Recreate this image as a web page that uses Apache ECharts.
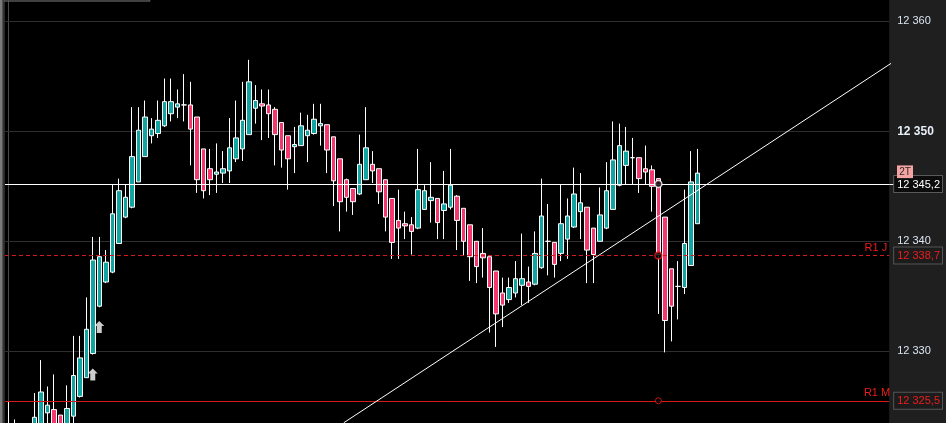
<!DOCTYPE html>
<html><head><meta charset="utf-8">
<script src="https://cdn.jsdelivr.net/npm/echarts@6/dist/echarts.min.js"></script>
<style>html,body{margin:0;padding:0;background:#1f1f1f;overflow:hidden}#c{width:946px;height:423px;}</style>
</head><body><div id="c"></div>
<script>
// ---- data ----
const opens = [
12323.0,12322.8,12322.0,12322.6,12322.5,12322.8,12324.4,12324.7,12324.2,12323.0,
12324.1,12325.9,12327.6,12329.8,12334.1,12336.3,12337.2,12339.8,12342.2,12343.1,
12345.4,12347.7,12349.6,12349.8,12350.5,12351.6,12352.2,12352.4,12352.4,12351.3,
12348.4,12346.6,12346.1,12346.2,12346.4,12347.5,12348.4,12349.7,12352.1,12352.5,
12352.4,12352.0,12350.8,12349.6,12348.6,12348.7,12349.6,12349.8,12350.5,12350.6,
12349.5,12347.5,12345.6,12344.8,12344.3,12345.6,12347.0,12346.6,12345.6,12343.9,
12341.9,12341.6,12341.5,12341.2,12342.9,12343.7,12343.9,12342.8,12343.1,12344.1,
12343.0,12341.5,12340.0,12338.9,12338.6,12337.3,12335.3,12334.7,12335.3,12336.0,
12336.3,12336.1,12337.6,12340.0,12339.9,12338.9,12340.2,12341.3,12342.7,12343.1,
12341.2,12340.0,12341.2,12342.9,12345.1,12346.9,12347.6,12347.6,12346.6,12346.5,
12345.7,12342.2,12337.5,12335.9,12335.8,12337.8,12341.6];
const closes = [
12322.4,12322.2,12322.6,12322.3,12324.0,12326.3,12325.1,12323.3,12323.0,12324.8,
12327.8,12329.4,12332.0,12338.3,12338.6,12338.1,12342.5,12344.6,12344.0,12347.7,
12350.1,12351.3,12350.2,12351.0,12352.7,12352.7,12352.5,12352.4,12350.2,12345.6,
12344.6,12345.6,12346.3,12346.6,12348.5,12349.4,12351.0,12354.5,12352.8,12352.3,
12351.6,12349.7,12348.3,12347.5,12348.8,12350.5,12350.1,12351.1,12350.7,12348.3,
12345.5,12343.6,12344.0,12343.6,12347.0,12348.5,12346.4,12344.5,12342.2,12339.9,
12341.2,12341.4,12340.9,12344.7,12344.6,12344.0,12341.7,12343.4,12345.1,12341.9,
12340.0,12338.6,12337.7,12338.5,12335.8,12333.4,12334.2,12335.8,12336.6,12336.6,
12335.9,12338.9,12342.3,12340.0,12337.9,12341.6,12342.3,12344.3,12343.5,12339.2,
12338.8,12342.4,12344.6,12347.4,12348.7,12348.2,12347.6,12345.7,12346.3,12345.0,
12338.8,12332.8,12334.1,12335.9,12339.8,12345.4,12346.2];
const lows = [
12322.0,12321.8,12321.5,12321.7,12322.0,12322.5,12323.0,12322.8,12322.5,12322.6,
12323.2,12325.8,12327.6,12329.7,12334.0,12336.2,12337.1,12339.8,12342.1,12343.0,
12345.4,12347.7,12348.9,12349.4,12350.4,12350.9,12351.2,12350.9,12346.9,12344.4,
12343.9,12344.2,12344.4,12345.3,12345.3,12347.2,12347.3,12349.7,12350.7,12349.2,
12349.4,12346.9,12346.7,12344.7,12346.2,12348.7,12347.2,12349.7,12348.7,12346.2,
12343.2,12340.9,12342.7,12342.4,12344.2,12345.6,12345.3,12343.4,12340.9,12338.4,
12338.4,12340.2,12338.8,12341.1,12342.9,12341.7,12340.2,12340.2,12342.9,12339.2,
12338.7,12336.4,12336.2,12336.7,12331.7,12330.4,12332.2,12334.4,12334.9,12334.2,
12334.4,12336.0,12337.5,12336.9,12336.7,12338.2,12338.4,12341.2,12340.2,12336.2,
12336.2,12340.0,12341.1,12342.9,12345.0,12345.2,12345.2,12344.4,12345.2,12342.7,
12333.4,12329.9,12330.9,12332.9,12335.2,12337.8,12341.6];
const highs = [
12325.4,12323.8,12323.2,12323.3,12326.2,12329.2,12326.8,12327.9,12324.2,12326.9,
12331.4,12331.4,12334.9,12340.4,12340.4,12339.2,12345.2,12345.7,12345.2,12352.2,
12352.2,12352.8,12351.2,12352.8,12354.8,12354.8,12353.8,12355.2,12354.5,12351.3,
12348.4,12348.4,12348.9,12348.2,12351.2,12352.8,12354.5,12356.5,12354.2,12353.8,
12353.8,12352.2,12350.8,12349.6,12350.4,12351.7,12351.5,12352.5,12352.5,12350.6,
12349.5,12347.5,12345.7,12344.8,12349.7,12352.2,12348.2,12346.6,12345.6,12343.9,
12344.7,12342.7,12342.2,12348.4,12345.1,12347.2,12343.9,12346.4,12348.4,12344.2,
12343.0,12341.5,12340.0,12341.2,12338.6,12337.3,12336.7,12336.7,12338.2,12340.7,
12337.7,12340.9,12345.7,12343.4,12339.9,12345.2,12343.9,12346.7,12346.2,12343.1,
12341.2,12344.9,12347.2,12350.9,12350.7,12350.4,12349.4,12347.6,12348.7,12346.9,
12345.7,12342.2,12337.5,12338.2,12344.7,12348.2,12348.4];

const slotCount = 136;                 // bar slots across the plot (incl. empty future space)
const gridLevels = [12330, 12340, 12350, 12360];
const boldLevel = 12350;
const lastPrice = 12345.2;
const r1J = 12338.7;
const r1M = 12325.5;
const markerBar = 100;
const buyArrows = [[13, 12327.9], [14, 12332.2]];
const trendStart = [51.6, 12323.5];
const trendEnd = [136.1, 12356.3];
const yMin = 12323.48, yMax = 12361.94;

// ---- build ----
const cats = [];
for (let i = 0; i < slotCount; i++) cats.push(String(i + 1));
const candles = opens.map((o, i) => [o, closes[i], lows[i], highs[i]]);

function fmt(v, dec) {
  const s = v.toFixed(dec);
  const parts = s.split('.');
  const ip = parts[0];
  return ip.slice(0, ip.length - 3) + ' ' + ip.slice(ip.length - 3) + (dec ? ',' + parts[1] : '');
}
const FF = 'Liberation Sans, Arial, sans-serif';
const RED = '#f01c1c';

const chart = echarts.init(document.getElementById('c'));
const option = {
  backgroundColor: '#1f1f1f',
  animation: false,
  grid: { left: 5, right: 54.4, top: 0, bottom: 0, show: true, backgroundColor: '#000', borderWidth: 0 },
  xAxis: [
    { type: 'category', data: cats, show: false, boundaryGap: true },
    { type: 'value', min: -0.5, max: slotCount - 0.5, show: false }
  ],
  yAxis: [
    {
      type: 'value', position: 'right', min: yMin, max: yMax,
      splitLine: { show: false },
      axisLine: { show: true, lineStyle: { color: '#4a4a4a', width: 1 } },
      axisTick: { show: true, customValues: gridLevels, length: 4, lineStyle: { color: '#8a8a8a' } },
      axisLabel: {
        show: true, customValues: gridLevels, margin: 8,
        formatter: v => (v === boldLevel ? '{b|' : '{n|') + fmt(v, 0) + '}',
        rich: {
          n: { color: '#dbe6f2', fontSize: 11, fontFamily: FF },
          b: { color: '#e6eef8', fontSize: 12, fontWeight: 'bold', fontFamily: FF }
        }
      }
    },
    {
      type: 'value', position: 'right', min: yMin, max: yMax,
      splitLine: { show: false },
      axisLine: { show: false },
      axisTick: { show: true, customValues: [lastPrice], length: 5, lineStyle: { color: '#ffffff' } },
      axisLabel: {
        show: true, customValues: [lastPrice, r1J, r1M], margin: 5,
        formatter: v => (v === lastPrice ? '{w|' : '{r|') + fmt(v, 1) + '}',
        rich: {
          w: { color: '#ffffff', backgroundColor: '#0c0c0c', borderColor: '#5a5a5a', borderWidth: 1,
               padding: [3, 2, 2, 3], fontSize: 11, fontFamily: FF },
          r: { color: RED, backgroundColor: '#1c1c1c', borderColor: '#555', borderWidth: 1,
               padding: [3, 2, 2, 3], fontSize: 11, fontFamily: FF }
        }
      }
    }
  ],
  series: [
    {
      type: 'line', xAxisIndex: 1, yAxisIndex: 0, z: 6,
      data: [trendStart, trendEnd], symbol: 'none', clip: true,
      lineStyle: { color: '#ffffff', width: 1 },
      markLine: {
        silent: true, z: 1, symbol: ['none', 'none'], animation: false,
        label: { show: false },
        lineStyle: { color: '#2e2e2e', width: 1, type: 'solid' },
        data: gridLevels.map(v => ({ yAxis: v }))
      }
    },
    {
      type: 'candlestick', xAxisIndex: 0, yAxisIndex: 0, z: 3,
      data: candles, barWidth: 5,
      itemStyle: { color: '#12a4a0', color0: '#f2386c', borderColor: '#ffffff', borderColor0: '#ffffff',
                   borderColorDoji: '#ffffff', borderWidth: 1 },
      markLine: {
        silent: true, z: 5, symbol: ['none', 'none'], animation: false,
        data: [
          { yAxis: lastPrice, lineStyle: { color: '#ffffff', width: 1, type: 'solid' }, label: { show: false } },
          { yAxis: r1J, lineStyle: { color: '#d41a1a', width: 1, type: [4, 3] },
            label: { show: true, position: 'insideEndTop', formatter: 'R1 J', color: RED, fontSize: 11, fontFamily: FF, distance: [2, 2] } },
          { yAxis: r1M, lineStyle: { color: '#d41a1a', width: 1, type: 'solid' },
            label: { show: true, position: 'insideEndTop', formatter: 'R1 M', color: RED, fontSize: 11, fontFamily: FF, distance: [-1, 2] } }
        ]
      }
    },
    {
      type: 'scatter', xAxisIndex: 0, yAxisIndex: 0, z: 7,
      symbol: 'path://M5,0L10,5L7.5,5L7.5,12L2.5,12L2.5,5L0,5Z', symbolSize: [10, 12],
      itemStyle: { color: '#ffffff' },
      data: buyArrows
    },
    {
      type: 'scatter', xAxisIndex: 0, yAxisIndex: 0, z: 8, symbol: 'circle',
      data: [
        { value: [markerBar, lastPrice], symbolSize: 7, itemStyle: { color: '#000', borderColor: '#ffffff', borderWidth: 1.5 } },
        { value: [markerBar, r1J], symbolSize: 7, itemStyle: { color: '#000', borderColor: RED, borderWidth: 1.5 } },
        { value: [markerBar, r1M], symbolSize: 6, itemStyle: { color: '#000', borderColor: RED, borderWidth: 1 } }
      ]
    }
  ]
};
chart.setOption(option);

const yLast = chart.convertToPixel({ yAxisIndex: 0 }, lastPrice);
chart.setOption({
  graphic: [
    { type: 'rect', id: 'stripA', shape: { x: 0, y: 0, width: 2.7, height: 423 }, style: { fill: '#7a7a7a' }, silent: true },
    { type: 'rect', id: 'stripB', shape: { x: 2.7, y: 0, width: 1.8, height: 423 }, style: { fill: '#333' }, silent: true },
    { type: 'rect', id: 'infobox', shape: { x: 4.5, y: -10, width: 145, height: 11 }, style: { fill: 'transparent', stroke: '#555', lineWidth: 1.5 }, silent: true, z: 100 },
    { type: 'rect', id: 'tagbg', shape: { x: 897, y: yLast - 18.7, width: 16, height: 12.7 }, style: { fill: '#f5a3a3' }, silent: true, z: 100 },
    { type: 'text', id: 'tagtx', x: 905, y: yLast - 12.3, style: { text: '2T', fill: '#2a2a2a', fontSize: 10, fontFamily: FF, align: 'center', verticalAlign: 'middle' }, silent: true, z: 101 }
  ]
});
</script>
</body></html>
